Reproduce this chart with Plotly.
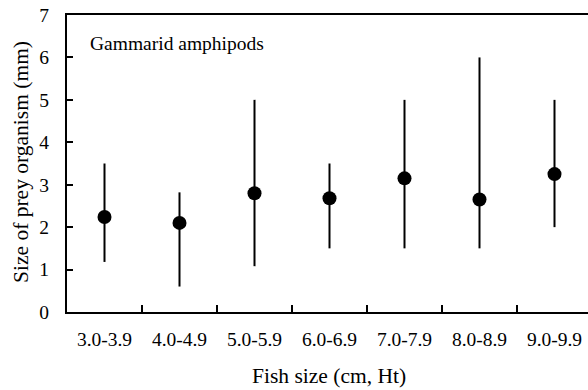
import plotly.graph_objects as go

categories = ["3.0-3.9", "4.0-4.9", "5.0-5.9", "6.0-6.9", "7.0-7.9", "8.0-8.9", "9.0-9.9"]
mean_size = [2.24, 2.10, 2.80, 2.68, 3.15, 2.65, 3.25]
max_size = [3.5, 2.82, 5.0, 3.5, 5.0, 6.0, 5.0]
min_size = [1.18, 0.6, 1.08, 1.5, 1.5, 1.5, 2.0]

err_plus = [mx - m for mx, m in zip(max_size, mean_size)]
err_minus = [m - mn for m, mn in zip(mean_size, min_size)]

W, H = 588, 390
L, R, T, B = 67, 0, 15, 78
pw = W - L - R
ph = H - T - B
cat_px = 75.0
x_max = -0.5 + pw / cat_px

FONT = "Liberation Serif"

fig = go.Figure()
fig.add_trace(go.Scatter(
    x=categories, y=mean_size, mode="markers",
    marker=dict(size=14, color="black"),
    error_y=dict(type="data", symmetric=False, array=err_plus, arrayminus=err_minus,
                 width=0, thickness=2, color="black"),
    showlegend=False,
))

def px_x(px):
    return (px - L) / pw

def px_y(py):
    return (H - B - py) / ph

fig.update_layout(
    width=W, height=H,
    margin=dict(l=L, r=R, t=T, b=B, pad=0),
    paper_bgcolor="white", plot_bgcolor="white",
    font=dict(family=FONT, color="black", size=19.5),
    xaxis=dict(
        type="category", range=[-0.5, x_max],
        showline=True, linecolor="black", linewidth=2, mirror=True,
        ticks="inside", ticklen=7, tickwidth=2, tickcolor="black",
        tickson="boundaries", showgrid=False, zeroline=False,
        tickfont=dict(family=FONT, size=19.5), ticklabelstandoff=9,
    ),
    yaxis=dict(
        range=[0, 7], tickvals=[0, 1, 2, 3, 4, 5, 6, 7],
        showline=True, linecolor="black", linewidth=2,
        ticks="inside", ticklen=6, tickwidth=2, tickcolor="black",
        showgrid=False, zeroline=False,
        tickfont=dict(family=FONT, size=19.5), ticklabelstandoff=12,
    ),
    annotations=[
        dict(text="Gammarid amphipods", xref="paper", yref="paper",
             x=px_x(88), y=px_y(43), xanchor="left", yanchor="middle",
             showarrow=False, font=dict(family=FONT, size=19.5)),
        dict(text="Fish size (cm, Ht)", xref="paper", yref="paper",
             x=px_x(329), y=px_y(376), xanchor="center", yanchor="middle",
             showarrow=False, font=dict(family=FONT, size=21.5)),
        dict(text="Size of prey organism (mm)", xref="paper", yref="paper",
             x=px_x(21), y=px_y(162), xanchor="center", yanchor="middle",
             textangle=-90, showarrow=False, font=dict(family=FONT, size=21.5)),
    ],
)

fig.write_html("out.html")
